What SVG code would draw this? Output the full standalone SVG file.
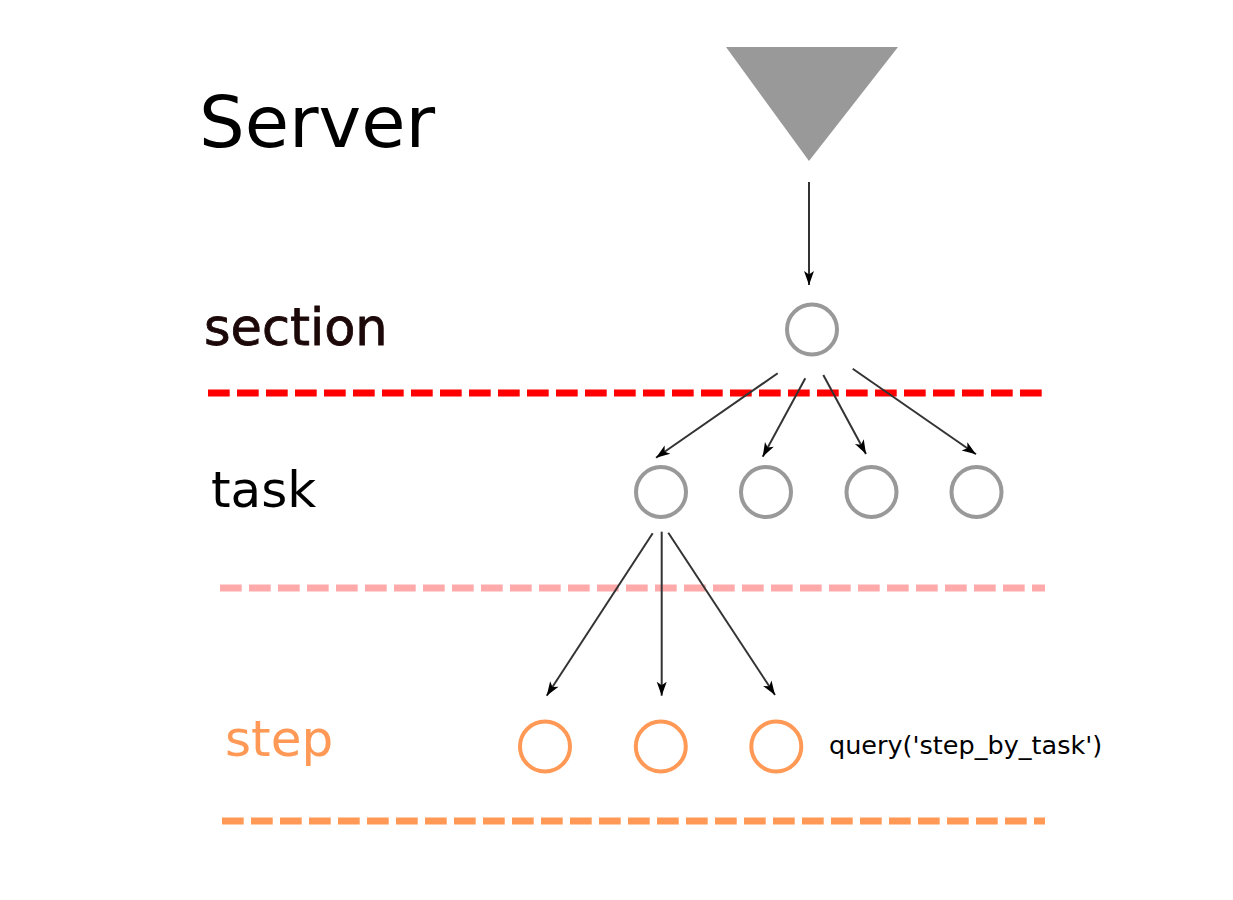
<svg xmlns="http://www.w3.org/2000/svg" width="1233" height="900" viewBox="0 0 1233 900">
<defs>
<style>
.lbl{font-family:"DejaVu Sans","Liberation Sans",sans-serif;}
.gray{fill:none;stroke:#999999;stroke-width:4;}
.orange{fill:none;stroke:#ff9955;stroke-width:4;}
.conn{stroke:#333333;stroke-width:2;fill:none;marker-end:url(#arr);}
.dash{fill:none;stroke-width:7;stroke-dasharray:21.7 7.3;}
</style>
<marker id="arr" markerUnits="userSpaceOnUse" markerWidth="18" markerHeight="14" viewBox="-1 -7 18 14" refX="14" refY="0" orient="auto">
<path d="M0,-5 L14,0 L0,5 L3.5,0 z" fill="#000"/>
</marker>
</defs>
<rect width="1233" height="900" fill="#ffffff"/>
<g id="labels">
<text class="lbl" x="199" y="147" font-size="72" fill="#000">Server</text>
<text class="lbl" x="204" y="345" font-size="51" fill="#1c0808" stroke="#1c0808" stroke-width="0.8">section</text>
<text class="lbl" x="211" y="507" font-size="50" fill="#000">task</text>
<text class="lbl" x="225" y="756" font-size="50" fill="#ff9955">step</text>
<text class="lbl" x="829" y="754" font-size="25.5" fill="#000">query('step_by_task')</text>
</g>
<g id="separators">
<line class="dash" x1="208" y1="393" x2="1047" y2="393" stroke="#ff0000" stroke-dasharray="21.9 7.4"/>
<line class="dash" x1="220" y1="588" x2="1045" y2="588" stroke="#ffaaaa" stroke-dasharray="17.7 6.7 21.7 7.3 21.7 7.3 21.7 7.3 21.7 7.3 21.7 7.3 21.7 7.3 21.7 7.3 21.7 7.3 21.7 7.3 21.7 7.3 21.7 7.3 21.7 7.3 21.7 7.3 21.7 7.3 21.7 7.3 21.7 7.3 21.7 7.3 21.7 7.3 21.7 7.3 21.7 7.3 21.7 7.3 21.7 7.3 21.7 7.3 21.7 7.3 21.7 7.3 21.7 7.3 21.7 7.3 21.7 7.3 21.7 7.3"/>
<line class="dash" x1="222" y1="821" x2="1045" y2="821" stroke="#ff9955"/>
</g>
<g id="server">
<polygon points="726,47 898,47 809,161" fill="#999999"/>
</g>
<g id="section">
<circle class="gray" cx="812" cy="329.5" r="25"/>
</g>
<g id="task1"><circle class="gray" cx="661" cy="492" r="25"/></g>
<g id="task2"><circle class="gray" cx="766" cy="492" r="25"/></g>
<g id="task3"><circle class="gray" cx="871.5" cy="492" r="25"/></g>
<g id="task4"><circle class="gray" cx="976.5" cy="492" r="25"/></g>
<g id="step1"><circle class="orange" cx="545" cy="746.5" r="25"/></g>
<g id="step2"><circle class="orange" cx="660.8" cy="746.5" r="25"/></g>
<g id="step3"><circle class="orange" cx="776.3" cy="746.5" r="25"/></g>
<g id="connectors">
<line class="conn" x1="809" y1="182" x2="809" y2="285"/>
<line class="conn" x1="777.7" y1="373.3" x2="656" y2="457.7"/>
<line class="conn" x1="805.3" y1="378.3" x2="762.7" y2="456.7"/>
<line class="conn" x1="823.3" y1="375" x2="866" y2="454"/>
<line class="conn" x1="852.7" y1="368.7" x2="976" y2="454.3"/>
<line class="conn" x1="652.7" y1="533.3" x2="546.7" y2="695.7"/>
<line class="conn" x1="661.7" y1="531.7" x2="661.7" y2="695.7"/>
<line class="conn" x1="668.3" y1="532.7" x2="775" y2="695"/>
</g>
</svg>
